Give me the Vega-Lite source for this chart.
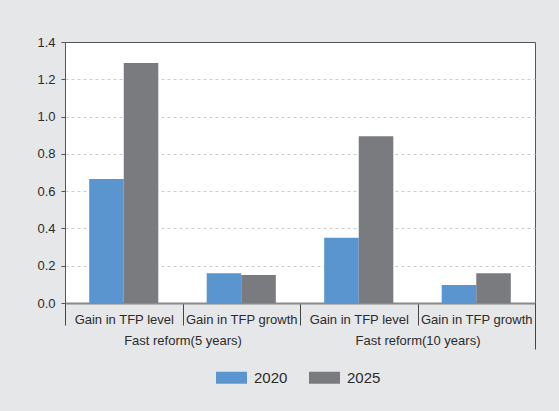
{
  "$schema": "https://vega.github.io/schema/vega-lite/v6.json",
  "autosize": {"type": "none"},
  "width": 470,
  "height": 261,
  "padding": {"left": 65, "top": 42, "right": 24, "bottom": 108},
  "background": "#e6e7e9",
  "config": {
    "font": "Liberation Sans",
    "view": {"fill": "white", "stroke": "#555555", "strokeWidth": 1},
    "axis": {"labelFont": "Liberation Sans", "labelColor": "#2b2b2b", "labelFontSize": 13}
  },
  "data": {
    "values": [
      {"group": "Fast reform(5 years)", "key": "Fast reform(5 years)|Gain in TFP level", "year": "2020", "value": 0.665},
      {"group": "Fast reform(5 years)", "key": "Fast reform(5 years)|Gain in TFP level", "year": "2025", "value": 1.288},
      {"group": "Fast reform(5 years)", "key": "Fast reform(5 years)|Gain in TFP growth", "year": "2020", "value": 0.16},
      {"group": "Fast reform(5 years)", "key": "Fast reform(5 years)|Gain in TFP growth", "year": "2025", "value": 0.15},
      {"group": "Fast reform(10 years)", "key": "Fast reform(10 years)|Gain in TFP level", "year": "2020", "value": 0.35},
      {"group": "Fast reform(10 years)", "key": "Fast reform(10 years)|Gain in TFP level", "year": "2025", "value": 0.895},
      {"group": "Fast reform(10 years)", "key": "Fast reform(10 years)|Gain in TFP growth", "year": "2020", "value": 0.097},
      {"group": "Fast reform(10 years)", "key": "Fast reform(10 years)|Gain in TFP growth", "year": "2025", "value": 0.16}
    ]
  },
  "layer": [
    {
      "mark": {"type": "bar"},
      "encoding": {
        "x": {
          "field": "key",
          "type": "nominal",
          "sort": null,
          "scale": {"paddingInner": 0, "paddingOuter": 0},
          "axis": {
            "title": null,
            "orient": "bottom",
            "labelAngle": 0,
            "labelExpr": "split(datum.label, '|')[1]",
            "tickBand": "extent",
            "tickColor": "#444444",
            "tickSize": 22,
            "domainColor": "#8a8a8a",
            "domainWidth": 2,
            "labelPadding": -12,
            "labelBaseline": "top"
          }
        },
        "xOffset": {
          "field": "year",
          "type": "nominal",
          "scale": {"paddingOuter": 0.7, "paddingInner": 0}
        },
        "y": {
          "field": "value",
          "type": "quantitative",
          "scale": {"domain": [0, 1.4], "nice": false},
          "axis": {
            "title": null,
            "values": [0, 0.2, 0.4, 0.6, 0.8, 1.0, 1.2, 1.4],
            "format": ".1f",
            "grid": true,
            "gridDash": [3, 3],
            "gridColor": "#cccccc",
            "gridOpacity": {"condition": {"test": "datum.value === 0 || datum.value === 1.4", "value": 0}, "value": 1},
            "domainColor": "#555555",
            "tickColor": "#555555",
            "tickSize": 4,
            "labelPadding": 6
          }
        },
        "color": {
          "field": "year",
          "type": "nominal",
          "scale": {"domain": ["2020", "2025"], "range": ["#5b95cf", "#7a7b7f"]},
          "legend": {
            "title": null,
            "orient": "none",
            "legendX": 151,
            "legendY": 320,
            "padding": 0,
            "direction": "horizontal",
            "symbolType": "M-1,-0.387H1V0.387H-1Z",
            "symbolSize": 961,
            "symbolStrokeWidth": 0,
            "labelFontSize": 15,
            "labelFont": "Liberation Sans",
            "labelColor": "#2b2b2b",
            "labelOffset": 7,
            "columnPadding": 21
          }
        }
      }
    },
    {
      "mark": {"type": "rect", "opacity": 0},
      "encoding": {
        "x": {
          "field": "group",
          "type": "nominal",
          "sort": null,
          "scale": {"paddingInner": 0, "paddingOuter": 0},
          "axis": {
            "title": null,
            "orient": "bottom",
            "labelAngle": 0,
            "ticks": true,
            "tickBand": "extent",
            "tickSize": 46,
            "tickColor": "#444444",
            "tickOpacity": {"condition": {"test": "datum.value === 'Fast reform(10 years)'", "value": 1}, "value": 0},
            "domain": false,
            "grid": false,
            "labelPadding": -15,
            "labelBaseline": "top"
          }
        }
      }
    }
  ],
  "resolve": {"scale": {"x": "independent"}}
}
